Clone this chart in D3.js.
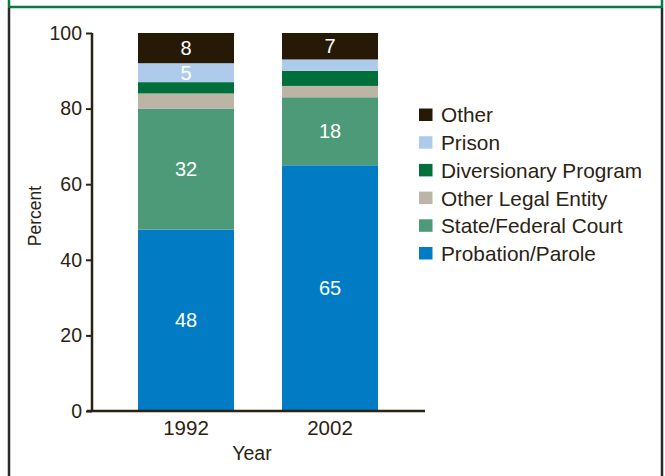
<!DOCTYPE html>
<html><head><meta charset="utf-8">
<script src="https://cdn.jsdelivr.net/npm/d3@7"></script>
<style>body{margin:0;background:#fff}svg{display:block}</style>
</head><body><svg id="c" width="665" height="476"></svg>
<script>
const years = ["1992", "2002"];
const seriesNames = ["Probation/Parole", "State/Federal Court", "Other Legal Entity", "Diversionary Program", "Prison", "Other"];
const probation = [48, 65];
const stateFederal = [32, 18];
const otherLegal = [4, 3];
const diversionary = [3, 4];
const prison = [5, 3];
const other = [8, 7];
const shownLabels = [["48", "65"], ["32", "18"], [null, null], [null, null], ["5", null], ["8", "7"]];
const yTicks = [0, 20, 40, 60, 80, 100];
const colors = ["#007bc4", "#4d9a78", "#bcb5a6", "#006f3c", "#aecbeb", "#261a06"];

const seriesValues = [probation, stateFederal, otherLegal, diversionary, prison, other];
const table = years.map((y, i) => {
  const r = {year: y};
  seriesNames.forEach((s, k) => r[s] = seriesValues[k][i]);
  return r;
});
const stacked = d3.stack().keys(seriesNames)(table);

const svg = d3.select("#c");
const ink = "#2b2214";
const font = "'Liberation Sans', Arial, sans-serif";

// frame
svg.append("line").attr("x1", 9).attr("x2", 9).attr("y1", 0).attr("y2", 8).attr("stroke", "#0a7a45").attr("stroke-width", 2.5);
svg.append("line").attr("x1", 662).attr("x2", 662).attr("y1", 0).attr("y2", 8).attr("stroke", "#0a7a45").attr("stroke-width", 2.5);
svg.append("line").attr("x1", 9).attr("x2", 663).attr("y1", 7).attr("y2", 7).attr("stroke", "#0a7a45").attr("stroke-width", 2.5);
svg.append("line").attr("x1", 9).attr("x2", 9).attr("y1", 8).attr("y2", 476).attr("stroke", "#2a2a2a").attr("stroke-width", 2.5);
svg.append("line").attr("x1", 662).attr("x2", 662).attr("y1", 8).attr("y2", 476).attr("stroke", "#2a2a2a").attr("stroke-width", 2.5);

const y = d3.scaleLinear().domain([0, 100]).range([411, 33]);
const x = d3.scaleBand().domain(years).range([90, 426]).paddingInner(1 / 3).paddingOuter(1 / 3);

const g = svg.append("g");
stacked.forEach((layer, k) => {
  g.selectAll(null).data(layer).enter().append("rect")
    .attr("x", d => x(d.data.year))
    .attr("width", x.bandwidth())
    .attr("y", d => y(d[1]))
    .attr("height", d => y(d[0]) - y(d[1]))
    .attr("fill", colors[k]);
  g.selectAll(null).data(layer).enter().filter((d, i) => shownLabels[k][i])
    .append("text")
    .attr("x", d => x(d.data.year) + x.bandwidth() / 2)
    .attr("y", d => y((d[0] + d[1]) / 2))
    .attr("dy", "0.36em")
    .attr("text-anchor", "middle")
    .attr("fill", "#fff")
    .attr("font-family", font).attr("font-size", 20)
    .text((d, i) => shownLabels[k][years.indexOf(d.data.year)]);
});

// y axis
const ya = svg.append("g").attr("transform", "translate(92,0)")
  .call(d3.axisLeft(y).tickValues(yTicks).tickSize(6).tickPadding(4));
ya.select(".domain").attr("stroke", ink).attr("stroke-width", 2.5).attr("d", "M0," + y(100) + "V" + y(0));
ya.selectAll(".tick line").attr("stroke", ink).attr("stroke-width", 2);
ya.selectAll(".tick text").attr("fill", ink).attr("font-family", font).attr("font-size", 19.5);

// x axis
const xa = svg.append("g").attr("transform", "translate(0,411)")
  .call(d3.axisBottom(x).tickSize(0).tickPadding(9));
xa.select(".domain").attr("stroke", ink).attr("stroke-width", 2.5).attr("d", "M87,0H425");
xa.selectAll(".tick text").attr("fill", ink).attr("font-family", font).attr("font-size", 20.5);

svg.append("text").attr("x", 252).attr("y", 460).attr("text-anchor", "middle")
  .attr("fill", ink).attr("font-family", font).attr("font-size", 19.5).text("Year");
svg.append("text").attr("transform", "translate(41,216) rotate(-90)").attr("text-anchor", "middle")
  .attr("fill", ink).attr("font-family", font).attr("font-size", 17.5).text("Percent");

// legend
const legendOrder = seriesNames.slice().reverse();
const lg = svg.append("g");
legendOrder.forEach((s, i) => {
  const yy = 115 + i * 27.7;
  lg.append("rect").attr("x", 419).attr("y", yy - 6.5).attr("width", 13.5).attr("height", 12.5)
    .attr("fill", colors[seriesNames.indexOf(s)]);
  lg.append("text").attr("x", 441).attr("y", yy).attr("dy", "0.36em")
    .attr("fill", ink).attr("font-family", font).attr("font-size", 20.8).text(s);
});
</script></body></html>
